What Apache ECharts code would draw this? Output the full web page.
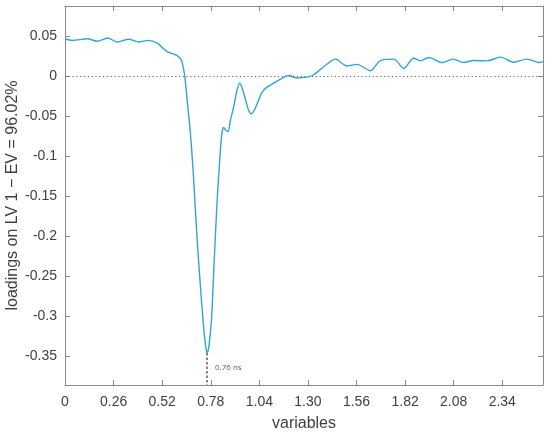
<!DOCTYPE html>
<html>
<head>
<meta charset="utf-8">
<script src="https://cdn.jsdelivr.net/npm/echarts@6/dist/echarts.min.js"></script>
<style>html,body{margin:0;padding:0;background:#fff;}#c{width:550px;height:435px;}</style>
</head>
<body>
<div id="c"></div>
<script>
// Data
const xValues = [0, 0.040, 0.119, 0.172, 0.229, 0.279, 0.341, 0.395, 0.448, 0.493, 0.547, 0.600, 0.622, 0.631, 0.641, 0.655, 0.671, 0.687, 0.704, 0.722, 0.741, 0.752, 0.760, 0.770, 0.784, 0.794, 0.805, 0.816, 0.827, 0.835, 0.842, 0.849, 0.860, 0.873, 0.885, 0.903, 0.920, 0.935, 0.950, 0.966, 0.982, 0.998, 1.016, 1.037, 1.054, 1.073, 1.117, 1.153, 1.197, 1.242, 1.296, 1.331, 1.363, 1.385, 1.447, 1.510, 1.563, 1.634, 1.688, 1.759, 1.813, 1.866, 1.902, 1.946, 2.018, 2.077, 2.134, 2.187, 2.259, 2.330, 2.401, 2.473, 2.540, 2.558];
const loadings = [0.047, 0.045, 0.047, 0.044, 0.048, 0.043, 0.0465, 0.043, 0.045, 0.0415, 0.031, 0.026, 0.021, 0.013, 0, -0.033, -0.071, -0.123, -0.192, -0.254, -0.311, -0.336, -0.346, -0.338, -0.304, -0.254, -0.198, -0.148, -0.108, -0.082, -0.068, -0.064, -0.067, -0.069, -0.055, -0.038, -0.018, -0.0085, -0.016, -0.029, -0.042, -0.047, -0.041, -0.029, -0.02, -0.015, -0.0085, -0.0035, 0.001, -0.002, -0.001, 0.002, 0.008, 0.012, 0.0215, 0.013, 0.015, 0.007, 0.0198, 0.0215, 0.010, 0.0227, 0.0194, 0.0235, 0.0173, 0.0215, 0.0173, 0.0198, 0.0194, 0.024, 0.0177, 0.0215, 0.0173, 0.0185];
const xTicks = [0, 0.26, 0.52, 0.78, 1.04, 1.30, 1.56, 1.82, 2.08, 2.34];
const yTicks = [0.05, 0, -0.05, -0.1, -0.15, -0.2, -0.25, -0.3, -0.35];
const peakX = 0.76;
const peakY = -0.346;
const peakLabel = '0.76 ns';
const xName = 'variables';
const yName = 'loadings on LV 1 \u2212 EV = 96.02%';
const xMin = 0, xMax = 2.558, yMin = -0.386, yMax = 0.088;

const axisColor = '#8a8a8a';
const textColor = '#404040';
const font = 'Liberation Sans';

const fmtX = v => (Math.abs(v) < 1e-9 ? '0' : v.toFixed(2));
const fmtY = v => (Math.abs(v) < 1e-9 ? '0' : String(+v.toFixed(2)));

const chart = echarts.init(document.getElementById('c'));
const common = {
  axisLine: {show: true, onZero: false, lineStyle: {color: axisColor, width: 1}},
  splitLine: {show: false}
};
chart.setOption({
  animation: false,
  grid: {left: 65, top: 6, width: 478, height: 379, containLabel: false, outerBoundsMode: 'none'},
  xAxis: [
    Object.assign({}, common, {
      type: 'value', min: xMin, max: xMax, position: 'bottom',
      axisTick: {show: true, inside: true, length: 5, customValues: xTicks, lineStyle: {color: axisColor}},
      axisLabel: {show: true, customValues: xTicks, formatter: fmtX, color: textColor, fontFamily: font, fontSize: 14, margin: 10},
      name: xName, nameLocation: 'middle', nameGap: 31, nameMoveOverlap: false,
      nameTextStyle: {color: textColor, fontFamily: font, fontSize: 16}
    }),
    Object.assign({}, common, {
      type: 'value', min: xMin, max: xMax, position: 'top',
      axisTick: {show: true, inside: true, length: 5, customValues: xTicks, lineStyle: {color: axisColor}},
      axisLabel: {show: false}
    })
  ],
  yAxis: [
    Object.assign({}, common, {
      type: 'value', min: yMin, max: yMax, position: 'left',
      axisTick: {show: true, inside: true, length: 5, customValues: yTicks, lineStyle: {color: axisColor}},
      axisLabel: {show: true, customValues: yTicks, formatter: fmtY, color: textColor, fontFamily: font, fontSize: 14, margin: 8},
      name: yName, nameLocation: 'middle', nameGap: 44, nameRotate: 90, nameMoveOverlap: false,
      nameTextStyle: {color: textColor, fontFamily: font, fontSize: 16}
    }),
    Object.assign({}, common, {
      type: 'value', min: yMin, max: yMax, position: 'right',
      axisTick: {show: true, inside: true, length: 5, customValues: yTicks, lineStyle: {color: axisColor}},
      axisLabel: {show: false}
    })
  ],
  series: [
    {
      type: 'line',
      data: xValues.map((x, i) => [x, loadings[i]]),
      showSymbol: false, smooth: 0.3,
      lineStyle: {color: '#2fa4dc', width: 1.4},
      markLine: {
        silent: true, symbol: ['none', 'none'], label: {show: false},
        lineStyle: {color: '#666', type: [1.2, 2.6], width: 1},
        data: [{yAxis: 0}]
      },
      z: 3
    },
    {
      type: 'line',
      data: [[peakX, peakY], [peakX, yMin]],
      showSymbol: false,
      lineStyle: {color: '#444', type: [2.5, 2], width: 1.3},
      z: 2
    },
    {
      type: 'scatter',
      data: [[peakX, (peakY + yMin) / 2 + 0.001]],
      symbolSize: 0,
      label: {show: true, position: 'right', distance: 8, formatter: peakLabel, color: '#333', fontFamily: 'Open Sans', fontSize: 8}
    }
  ]
});
</script>
</body>
</html>
